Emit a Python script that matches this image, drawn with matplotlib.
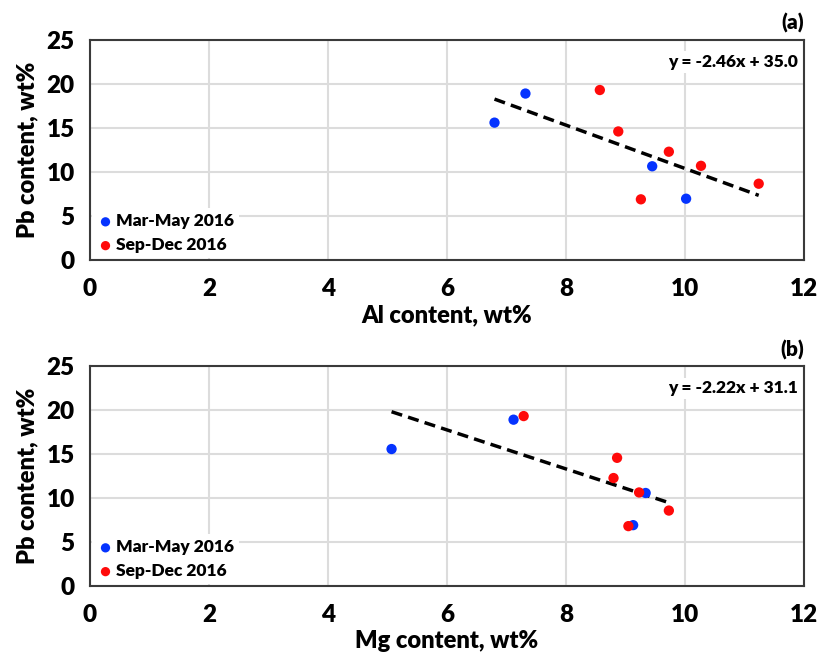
import matplotlib
matplotlib.use("Agg")
import matplotlib.pyplot as plt
import numpy as np

plt.rcParams['font.family'] = ['Lato', 'DejaVu Sans']
plt.rcParams['font.weight'] = 'heavy'
W = 'heavy'

# Panel (a): Al vs Pb
al_mar = [6.80, 7.32, 9.45, 10.02]
pb_mar_a = [15.6, 18.9, 10.65, 6.97]
al_sep = [8.57, 8.88, 9.73, 10.27, 11.24, 9.26]
pb_sep_a = [19.3, 14.6, 12.3, 10.7, 8.67, 6.9]
fit_a = (-2.46, 35.0)
eq_a = "y = -2.46x + 35.0"

# Panel (b): Mg vs Pb
mg_mar = [5.07, 7.12, 9.34, 9.13]
pb_mar_b = [15.6, 18.94, 10.6, 6.94]
mg_sep = [7.29, 8.86, 8.80, 9.23, 9.73, 9.05]
pb_sep_b = [19.35, 14.6, 12.3, 10.66, 8.6, 6.83]
fit_b = (-2.22, 31.1)
eq_b = "y = -2.22x + 31.1"

xticks = [0, 2, 4, 6, 8, 10, 12]
yticks = [0, 5, 10, 15, 20, 25]
legend_labels = ["Mar-May 2016", "Sep-Dec 2016"]

blue = '#0533FF'
red = '#FF0A0A'

fig = plt.figure(figsize=(8.17, 6.52), dpi=100)
axa = fig.add_axes([0.110, 0.601, 0.874, 0.338])
axb = fig.add_axes([0.110, 0.101, 0.874, 0.337])

def draw(ax, xm, ym, xs, ys, fit, eq, xlabel, tag):
    ax.grid(True, color='#dcdcdc', linewidth=1.5)
    ax.set_axisbelow(True)
    ax.scatter(xm, ym, s=55, color=blue, zorder=3, label=legend_labels[0], edgecolors='none')
    ax.scatter(xs, ys, s=55, color=red, zorder=3, label=legend_labels[1], edgecolors='none')
    allx = np.array(list(xm) + list(xs))
    xx = np.array([allx.min(), allx.max()])
    ax.plot(xx, fit[0] * xx + fit[1], color='black', linestyle=(0, (3.2, 1.8)), linewidth=2.5, zorder=2)
    ax.set_xlim(0, 12)
    ax.set_ylim(0, 25)
    ax.set_xticks(xticks)
    ax.set_yticks(yticks)
    ax.tick_params(axis='both', length=0, labelsize=17.5)
    ax.tick_params(axis='x', pad=13)
    ax.tick_params(axis='y', pad=11)
    for lab in ax.get_xticklabels() + ax.get_yticklabels():
        lab.set_fontweight(W)
    for sp in ax.spines.values():
        sp.set_color('#3a3a3a')
        sp.set_linewidth(1.5)
    ax.set_xlabel(xlabel, fontsize=17, fontweight=W, labelpad=3)
    ax.set_ylabel("Pb content, wt%", fontsize=17, fontweight=W, labelpad=6)
    ax.text(0.992, 0.90, eq, transform=ax.transAxes, ha='right', va='center',
            fontsize=12.5, fontweight=W,
            bbox=dict(facecolor='white', edgecolor='none', pad=2))
    ax.text(1.0, 1.03, tag, transform=ax.transAxes, ha='right', va='bottom',
            fontsize=15, fontweight=W)
    leg = ax.legend(loc='lower left', frameon=True, fontsize=12.5, handletextpad=0.1,
                    borderaxespad=0.1, handlelength=1.0, borderpad=0.3, labelspacing=0.45,
                    markerscale=0.9)
    leg.get_frame().set_facecolor('white')
    leg.get_frame().set_edgecolor('none')
    leg.get_frame().set_alpha(1.0)
    for t in leg.get_texts():
        t.set_fontweight(W)

draw(axa, al_mar, pb_mar_a, al_sep, pb_sep_a, fit_a, eq_a, "Al content, wt%", "(a)")
draw(axb, mg_mar, pb_mar_b, mg_sep, pb_sep_b, fit_b, eq_b, "Mg content, wt%", "(b)")

fig.savefig("out.png", dpi=100)
